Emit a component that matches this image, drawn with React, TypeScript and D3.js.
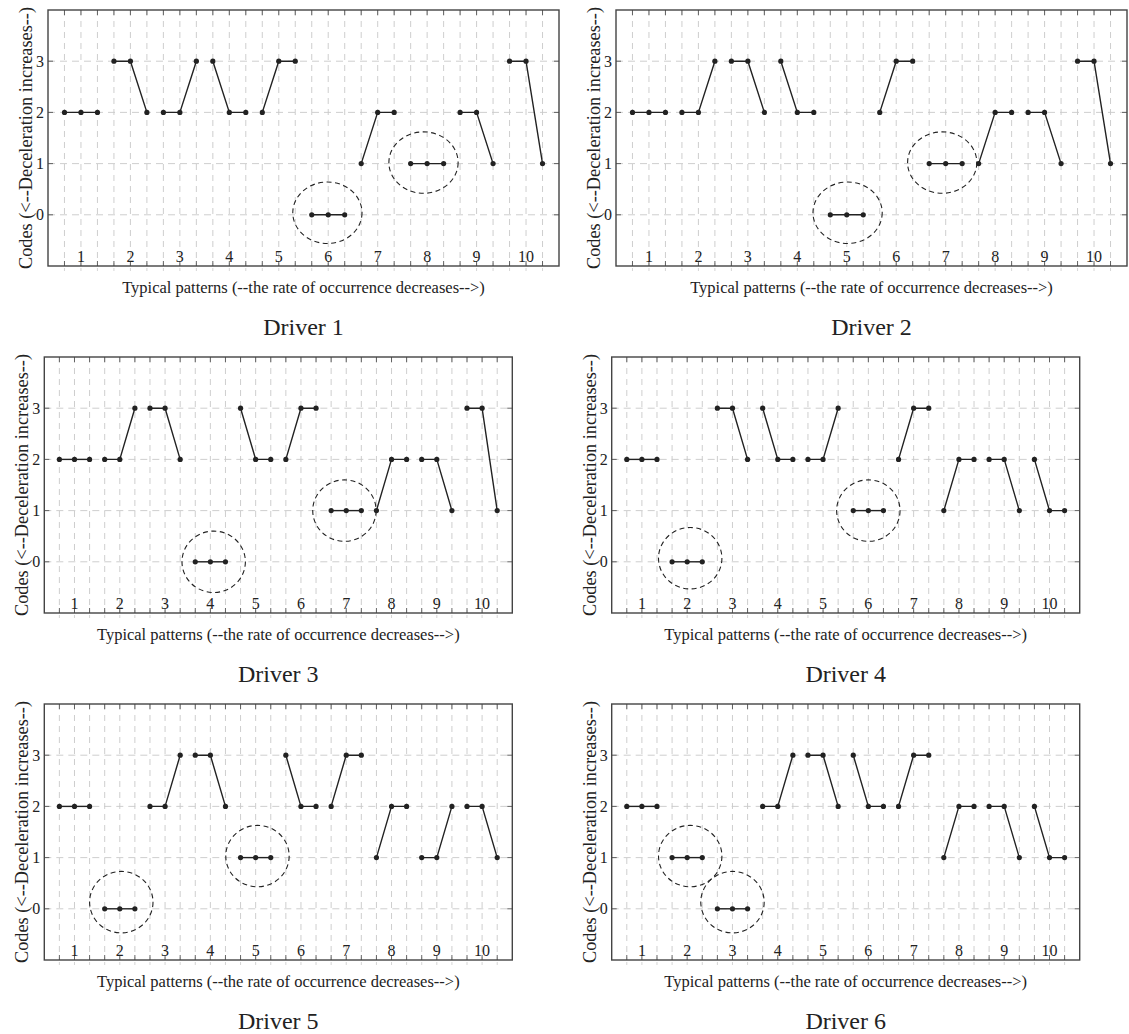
import * as d3 from "d3";

// codes per driver: 10 typical patterns x 3 steps each
const patternLabels = ["1", "2", "3", "4", "5", "6", "7", "8", "9", "10"];
const yTicks = [0, 1, 2, 3];
const driverNames = ["Driver 1", "Driver 2", "Driver 3", "Driver 4", "Driver 5", "Driver 6"];

const driver1 = [2, 2, 2, 3, 3, 2, 2, 2, 3, 3, 2, 2, 2, 3, 3, 0, 0, 0, 1, 2, 2, 1, 1, 1, 2, 2, 1, 3, 3, 1];
const driver2 = [2, 2, 2, 2, 2, 3, 3, 3, 2, 3, 2, 2, 0, 0, 0, 2, 3, 3, 1, 1, 1, 1, 2, 2, 2, 2, 1, 3, 3, 1];
const driver3 = [2, 2, 2, 2, 2, 3, 3, 3, 2, 0, 0, 0, 3, 2, 2, 2, 3, 3, 1, 1, 1, 1, 2, 2, 2, 2, 1, 3, 3, 1];
const driver4 = [2, 2, 2, 0, 0, 0, 3, 3, 2, 3, 2, 2, 2, 2, 3, 1, 1, 1, 2, 3, 3, 1, 2, 2, 2, 2, 1, 2, 1, 1];
const driver5 = [2, 2, 2, 0, 0, 0, 2, 2, 3, 3, 3, 2, 1, 1, 1, 3, 2, 2, 2, 3, 3, 1, 2, 2, 1, 1, 2, 2, 2, 1];
const driver6 = [2, 2, 2, 1, 1, 1, 0, 0, 0, 2, 2, 3, 3, 3, 2, 3, 2, 2, 2, 3, 3, 1, 2, 2, 2, 2, 1, 2, 1, 1];
const driverCodes = [driver1, driver2, driver3, driver4, driver5, driver6];

// circled patterns (pattern number, small offset of the circle centre in data units)
const circled = [
  [{ p: 6, dx: -0.05, dy: 0.04 }, { p: 8, dx: -0.22, dy: 0.02 }],
  [{ p: 5, dx: 0.05, dy: 0.04 }, { p: 7, dx: -0.21, dy: 0.02 }],
  [{ p: 4, dx: 0.22, dy: 0.0 }, { p: 7, dx: -0.12, dy: 0.0 }],
  [{ p: 2, dx: 0.2, dy: 0.07 }, { p: 6, dx: 0.0, dy: 0.0 }],
  [{ p: 2, dx: 0.1, dy: 0.13 }, { p: 5, dx: 0.12, dy: 0.03 }],
  [{ p: 2, dx: 0.2, dy: 0.03 }, { p: 3, dx: 0.0, dy: 0.13 }],
];

const font = "'Liberation Serif', 'Times New Roman', serif";
const rowTops = [10, 357, 704];
const plotH = 256;

const Panel = ({ idx }: { idx: number }) => {
  const row = Math.floor(idx / 2);
  const col = idx % 2;
  const x0 = row === 0 ? [48, 616][col] : [44.3, 611.7][col];
  const w = row === 0 ? 511 : 468;
  const y0 = rowTops[row];
  const codes = driverCodes[idx];

  const x = d3.scaleLinear().domain([0, 31]).range([x0, x0 + w]);
  const y = d3.scaleLinear().domain([-1, 4]).range([y0 + plotH, y0]);
  const xs = d3.range(1, 31);

  const segs = patternLabels.map((lab, p) => {
    const pts = codes.slice(p * 3, p * 3 + 3).map((v, k) => [p * 3 + k + 1, v] as [number, number]);
    return { lab, pts };
  });

  const lineGen = d3
    .line<[number, number]>()
    .x((d) => x(d[0]))
    .y((d) => y(d[1]));

  const bottom = y0 + plotH;
  const right = x0 + w;
  const midX = x0 + w / 2;
  const grid = "#c8c8c8";

  return (
    <g>
      {/* grid */}
      {xs.map((v) => (
        <line key={"gx" + v} x1={x(v)} x2={x(v)} y1={y0} y2={bottom} stroke={grid} strokeWidth={0.9} strokeDasharray="6,5" />
      ))}
      {yTicks.map((v) => (
        <line key={"gy" + v} x1={x0} x2={right} y1={y(v)} y2={y(v)} stroke={grid} strokeWidth={0.9} strokeDasharray="7,5" />
      ))}
      {/* ticks */}
      {xs.map((v) => (
        <g key={"tx" + v}>
          <line x1={x(v)} x2={x(v)} y1={bottom} y2={bottom - 5} stroke="#555" strokeWidth={0.9} />
          <line x1={x(v)} x2={x(v)} y1={y0} y2={y0 + 5} stroke="#555" strokeWidth={0.9} />
          <line x1={x(v)} x2={x(v)} y1={bottom + 2} y2={bottom + 5} stroke="#d0d0d0" strokeWidth={0.9} />
        </g>
      ))}
      {yTicks.map((v) => (
        <g key={"ty" + v}>
          <line x1={x0} x2={x0 + 5} y1={y(v)} y2={y(v)} stroke="#555" strokeWidth={0.9} />
          <line x1={right} x2={right - 5} y1={y(v)} y2={y(v)} stroke="#555" strokeWidth={0.9} />
          <text x={x0 - 4} y={y(v)} dy="0.35em" textAnchor="end" fontSize={16} fill="#222" fontFamily={font}>
            {v}
          </text>
        </g>
      ))}
      {/* frame */}
      <rect x={x0} y={y0} width={w} height={plotH} fill="none" stroke="#444" strokeWidth={1.4} />
      {/* pattern labels */}
      {segs.map((s, p) => (
        <text key={"pl" + p} x={x(p * 3 + 2)} y={bottom - 4} textAnchor="middle" fontSize={16} fill="#222" fontFamily={font}>
          {s.lab}
        </text>
      ))}
      {/* circles */}
      {circled[idx].map((c, k) => {
        const cx = x(c.p * 3 - 1 + c.dx);
        const cy = y(codes[c.p * 3 - 2] + c.dy);
        const rx = x(2.1) - x(0);
        const ry = y(0) - y(0.6);
        return (
          <ellipse key={"c" + k} cx={cx} cy={cy} rx={rx} ry={ry} fill="none" stroke="#222" strokeWidth={1.1} strokeDasharray="5,3.5" />
        );
      })}
      {/* series */}
      {segs.map((s, p) => (
        <g key={"s" + p}>
          <path d={lineGen(s.pts) || ""} fill="none" stroke="#222" strokeWidth={1.4} />
          {s.pts.map((d, k) => (
            <circle key={k} cx={x(d[0])} cy={y(d[1])} r={2.6} fill="#222" />
          ))}
        </g>
      ))}
      {/* axis labels */}
      <text
        transform={`translate(${x0 - 16},${y0 + plotH / 2}) rotate(-90)`}
        textAnchor="middle"
        fontSize={18.3}
        fill="#222"
        fontFamily={font}
      >
        Codes (&lt;--Deceleration increases--)
      </text>
      <text x={midX} y={bottom + 27} textAnchor="middle" fontSize={16.5} fill="#222" fontFamily={font}>
        Typical patterns (--the rate of occurrence decreases--&gt;)
      </text>
      <text x={midX} y={bottom + 69} textAnchor="middle" fontSize={24} fill="#222" fontFamily={font}>
        {driverNames[idx]}
      </text>
    </g>
  );
};

export default function App() {
  return (
    <svg
      width={1129}
      height={1034}
      style={{ position: "absolute", left: 0, top: 0, background: "#fff" }}
    >
      <rect x={0} y={0} width={1129} height={1034} fill="#fff" />
      {driverNames.map((n, i) => (
        <Panel key={n} idx={i} />
      ))}
    </svg>
  );
}
